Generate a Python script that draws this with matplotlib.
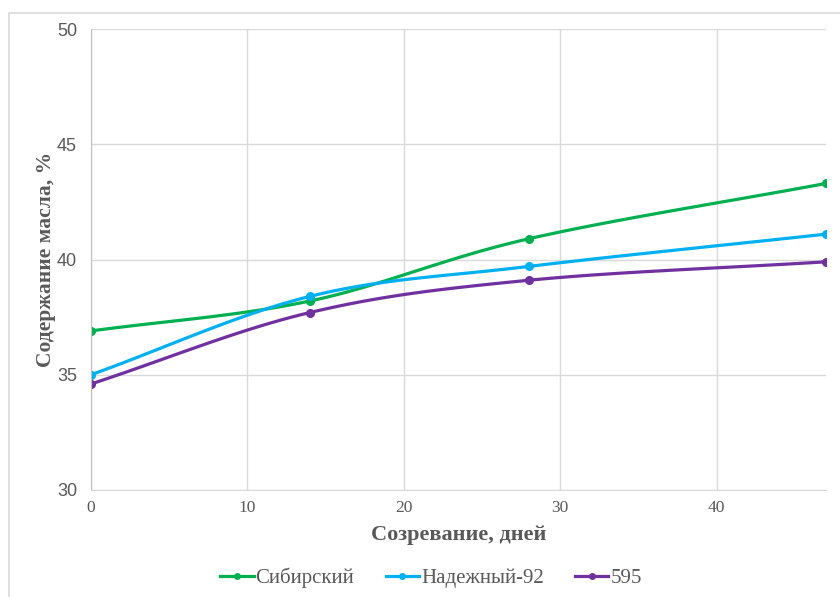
import numpy as np
import matplotlib.pyplot as plt
from matplotlib.patches import Rectangle

days = [0, 14, 28, 47]
sibirsky = [36.9, 38.2, 40.9, 43.3]
nadezhny = [35.0, 38.4, 39.7, 41.1]
line_595 = [34.6, 37.7, 39.1, 39.9]
names = ["Сибирский", "Надежный-92", "595"]
colors = ["#00B050", "#00B0F0", "#7030A0"]


def smooth(x, y, n=40):
    # catmull-rom style curve through the points (like excel smoothed lines)
    x = np.asarray(x, float)
    y = np.asarray(y, float)
    px = np.concatenate([[2 * x[0] - x[1]], x, [2 * x[-1] - x[-2]]])
    py = np.concatenate([[2 * y[0] - y[1]], y, [2 * y[-1] - y[-2]]])
    xs, ys = [], []
    for i in range(1, len(px) - 2):
        t = np.linspace(0, 1, n)
        t = t[:, None]
        p0 = np.array([px[i - 1], py[i - 1]])
        p1 = np.array([px[i], py[i]])
        p2 = np.array([px[i + 1], py[i + 1]])
        p3 = np.array([px[i + 2], py[i + 2]])
        c1 = p1 + (p2 - p0) / 6
        c2 = p2 - (p3 - p1) / 6
        b = ((1 - t) ** 3) * p1 + 3 * ((1 - t) ** 2) * t * c1 + 3 * (1 - t) * t ** 2 * c2 + t ** 3 * p2
        xs.extend(b[:, 0])
        ys.extend(b[:, 1])
    return np.array(xs), np.array(ys)


fig = plt.figure(figsize=(8.4, 5.97), dpi=100)
ax = fig.add_axes([91 / 840, 1 - 490 / 597, (826 - 91) / 840, (490 - 29) / 597])

fig.patches.append(Rectangle((9 / 840, -0.05), 1.2, 1.05 - 12.5 / 597, transform=fig.transFigure,
                             fill=False, edgecolor="#d9d9d9", linewidth=1.2))

for data, name, c in zip([sibirsky, nadezhny, line_595], names, colors):
    sx, sy = smooth(days, data)
    ax.plot(sx, sy, color=c, linewidth=2.3, solid_capstyle="round")
    ax.plot(days, data, "o", color=c, markersize=5.5)
    ax.plot([], [], color=c, linewidth=2.3, marker="o", markersize=4, label=name)

ax.set_xlim(0, 47)
ax.set_ylim(30, 50)
ax.set_xticks([0, 10, 20, 30, 40])
ax.set_yticks([30, 35, 40, 45, 50])
ax.grid(True, color="#d9d9d9", linewidth=1)
ax.set_axisbelow(True)
for s in ["top", "right"]:
    ax.spines[s].set_visible(False)
ax.spines["left"].set_color("#bfbfbf")
ax.spines["bottom"].set_color("#d9d9d9")
ax.tick_params(axis="x", length=0, pad=7)
ax.tick_params(axis="y", length=0, pad=10)
for lab in ax.get_yticklabels():
    lab.set_fontfamily("Liberation Sans")
    lab.set_fontsize(13)
    lab.set_color("#595959")
for lab in ax.get_xticklabels():
    lab.set_fontfamily("Liberation Serif")
    lab.set_fontsize(12.5)
    lab.set_color("#595959")

ax.set_xlabel("Созревание, дней", fontfamily="Liberation Serif", fontweight="bold",
              fontsize=16, color="#595959", labelpad=7)
ax.set_ylabel("Содержание масла, %", fontfamily="Liberation Serif", fontweight="bold",
              fontsize=15.5, color="#595959", labelpad=1)

fig.legend(loc="center", bbox_to_anchor=(431 / 840, 1 - 578 / 597), ncol=3, frameon=False,
           prop={"family": "Liberation Serif", "size": 15}, labelcolor="#595959",
           handlelength=1.6, handletextpad=0.1, columnspacing=1.5)

fig.savefig("out.png", dpi=100)
